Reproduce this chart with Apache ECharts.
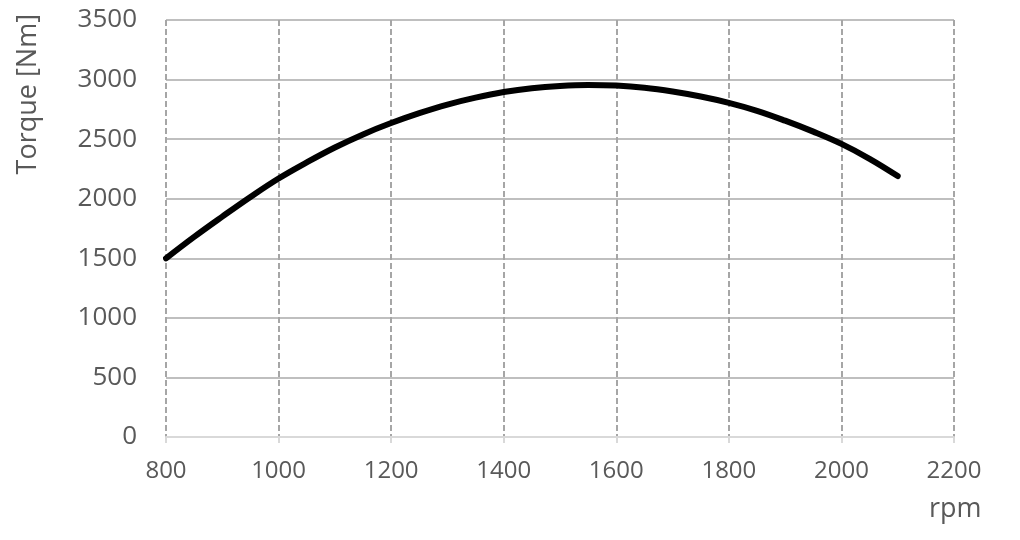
<!DOCTYPE html>
<html>
<head>
<meta charset="utf-8">
<script src="https://cdn.jsdelivr.net/npm/echarts@6/dist/echarts.min.js"></script>
<style>
  html, body { margin: 0; padding: 0; background: #fff; }
  #chart { width: 1020px; height: 540px; }
</style>
</head>
<body>
<div id="chart"></div>
<script>
// rpm vs torque, every 50 rpm
const rpm = [800, 850, 900, 950, 1000, 1050, 1100, 1150, 1200, 1250, 1300, 1350, 1400,
  1450, 1500, 1550, 1600, 1650, 1700, 1750, 1800, 1850, 1900, 1950, 2000, 2050, 2100];
const torque = [1500, 1680, 1850, 2015, 2170, 2305, 2430, 2540, 2635, 2718, 2790, 2848, 2895,
  2928, 2947, 2955, 2950, 2932, 2900, 2858, 2805, 2738, 2655, 2563, 2460, 2335, 2190];

const font = 'Open Sans, Liberation Sans, sans-serif';

const chart = echarts.init(document.getElementById('chart'));
chart.setOption({
  animation: false,
  grid: { left: 166, right: 66, top: 20, bottom: 103 },
  xAxis: {
    type: 'value',
    min: 800,
    max: 2200,
    interval: 200,
    axisLine: { show: true, lineStyle: { color: '#d9d9d9', width: 2 } },
    axisTick: { show: true, length: 6, lineStyle: { color: '#d9d9d9', width: 2 } },
    axisLabel: { color: '#595959', fontSize: 24, fontFamily: font, margin: 22, formatter: v => String(v) },
    splitLine: { show: true, lineStyle: { color: '#a6a6a6', width: 2, type: [6, 3] } }
  },
  yAxis: {
    type: 'value',
    min: 0,
    max: 3500,
    interval: 500,
    axisLine: { show: false },
    axisTick: { show: false },
    axisLabel: { color: '#595959', fontSize: 26, fontFamily: font, margin: 29, formatter: v => String(v) },
    splitLine: { show: true, lineStyle: { color: '#bfbfbf', width: 2 } }
  },
  graphic: [
    {
      type: 'text',
      left: 15,
      top: 14,
      rotation: Math.PI / 2,
      style: { text: 'Torque [Nm]', fill: '#595959', fontSize: 27, fontFamily: font }
    },
    {
      type: 'text',
      left: 929,
      top: 496,
      style: { text: 'rpm', fill: '#595959', fontSize: 27, fontFamily: font }
    }
  ],
  series: [{
    type: 'line',
    data: rpm.map((r, i) => [r, torque[i]]),
    smooth: 0.4,
    showSymbol: false,
    lineStyle: { color: '#000', width: 6, cap: 'round' }
  }]
});
</script>
</body>
</html>
